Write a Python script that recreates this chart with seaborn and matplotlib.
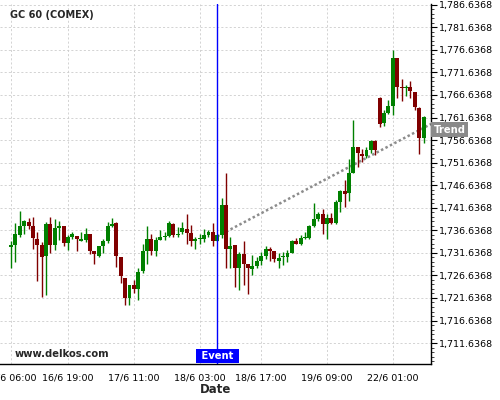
import numpy as np
import pandas as pd
import matplotlib
matplotlib.use("Agg")
import matplotlib.pyplot as plt
from matplotlib.ticker import FixedLocator, FuncFormatter
import seaborn as sns

# hourly candles, gaps (breaks / weekend) removed
opens = [1732.9, 1733.4, 1735.6, 1737.6, 1738.4, 1737.6, 1734.7, 1733.4, 1731.0, 1738.0,
         1733.4, 1737.1, 1737.6, 1733.9, 1735.2, 1735.4, 1734.3, 1734.5, 1735.8, 1732.1,
         1730.9, 1733.1, 1734.2, 1737.7, 1738.2, 1730.8, 1726.1, 1721.7, 1724.5, 1723.6,
         1727.7, 1732.0, 1734.8, 1732.0, 1734.5, 1735.1, 1735.4, 1738.0, 1735.7, 1736.2,
         1736.9, 1736.1, 1734.3, 1734.6, 1734.8, 1735.6, 1736.3, 1734.3, 1735.7, 1742.2,
         1732.4, 1733.4, 1728.2, 1731.4, 1729.2, 1728.0, 1728.7, 1729.8, 1730.9, 1732.5,
         1732.1, 1729.8, 1730.8, 1730.8, 1731.7, 1734.3, 1733.7, 1734.9, 1735.0, 1737.6,
         1739.1, 1740.2, 1738.0, 1739.4, 1738.3, 1742.8, 1745.3, 1744.8, 1749.4, 1755.2,
         1753.5, 1753.2, 1754.4, 1756.4, 1766.0, 1760.5, 1762.7, 1764.2, 1774.9, 1768.3,
         1768.2, 1768.3, 1767.4, 1763.8, 1757.0]
highs = [1734.2, 1738.2, 1740.9, 1738.9, 1739.3, 1739.5, 1736.3, 1734.1, 1738.4, 1739.5,
         1739.1, 1738.7, 1737.6, 1735.6, 1736.3, 1735.4, 1736.2, 1737.2, 1735.8, 1732.1,
         1733.2, 1734.8, 1738.4, 1739.3, 1738.5, 1730.8, 1726.1, 1724.5, 1725.6, 1728.2,
         1733.7, 1737.6, 1735.9, 1735.2, 1736.8, 1736.3, 1738.8, 1738.2, 1737.4, 1738.5,
         1740.2, 1737.8, 1735.2, 1735.9, 1736.9, 1736.7, 1738.2, 1735.7, 1743.9, 1749.3,
         1735.2, 1733.4, 1731.9, 1734.3, 1729.2, 1731.2, 1730.8, 1731.9, 1733.2, 1733.0,
         1732.1, 1731.5, 1731.9, 1732.3, 1734.5, 1735.0, 1735.6, 1736.3, 1737.8, 1742.6,
         1740.8, 1741.3, 1740.2, 1740.4, 1743.3, 1745.6, 1747.8, 1752.4, 1761.1, 1755.2,
         1754.6, 1755.2, 1756.6, 1756.6, 1766.2, 1763.3, 1765.5, 1776.6, 1774.9, 1770.2,
         1768.8, 1769.7, 1767.4, 1763.9, 1762.0]
lows = [1728.2, 1729.7, 1735.2, 1735.9, 1736.9, 1732.6, 1725.4, 1721.8, 1722.4, 1731.5,
        1732.3, 1734.5, 1733.1, 1732.3, 1734.6, 1732.1, 1734.2, 1734.1, 1731.4, 1729.1,
        1730.8, 1731.7, 1733.9, 1737.4, 1728.6, 1725.0, 1720.1, 1720.1, 1722.7, 1721.2,
        1727.2, 1729.2, 1731.2, 1730.9, 1734.5, 1734.5, 1735.2, 1735.2, 1735.1, 1735.8,
        1733.7, 1733.2, 1732.6, 1733.7, 1734.1, 1735.2, 1733.2, 1734.3, 1735.0, 1728.3,
        1728.2, 1724.0, 1723.4, 1724.5, 1722.6, 1726.7, 1728.2, 1728.9, 1730.3, 1729.8,
        1729.7, 1728.2, 1729.0, 1729.5, 1731.5, 1733.5, 1733.4, 1734.7, 1734.8, 1737.4,
        1738.7, 1735.8, 1734.8, 1738.0, 1738.0, 1740.8, 1741.7, 1743.2, 1749.3, 1750.6,
        1751.8, 1752.6, 1753.8, 1753.3, 1759.5, 1759.7, 1762.4, 1762.2, 1766.0, 1765.4,
        1766.4, 1765.9, 1763.3, 1753.5, 1755.9]
closes = [1733.4, 1735.8, 1737.6, 1738.7, 1737.6, 1735.0, 1733.4, 1730.8, 1738.0, 1733.4,
          1737.1, 1737.6, 1733.9, 1735.1, 1735.8, 1734.6, 1734.7, 1735.8, 1732.1, 1731.3,
          1733.1, 1734.2, 1737.6, 1738.0, 1731.0, 1726.4, 1721.7, 1724.5, 1723.6, 1727.5,
          1732.0, 1734.8, 1732.1, 1734.5, 1735.1, 1735.4, 1738.3, 1735.7, 1735.9, 1737.1,
          1736.1, 1734.3, 1734.7, 1735.0, 1735.6, 1736.3, 1734.3, 1735.7, 1742.2, 1732.4,
          1733.1, 1728.2, 1731.4, 1729.2, 1728.2, 1728.8, 1729.8, 1730.9, 1732.5, 1732.1,
          1730.3, 1730.4, 1731.0, 1731.7, 1734.3, 1733.6, 1735.0, 1735.2, 1737.6, 1739.1,
          1740.2, 1738.0, 1739.4, 1738.2, 1742.8, 1745.3, 1744.6, 1749.4, 1755.2, 1753.7,
          1753.2, 1754.4, 1756.4, 1754.4, 1760.3, 1762.7, 1764.2, 1774.9, 1768.3, 1768.2,
          1768.4, 1767.5, 1764.0, 1757.0, 1761.7]

tick_idx = [0, 13, 28, 43, 57, 72, 87]
tick_labels = ["16/6 06:00", "16/6 19:00", "17/6 11:00", "18/6 03:00",
               "18/6 17:00", "19/6 09:00", "22/6 01:00"]
minor_idx = [6.5, 20.5, 35.5, 50, 64.5, 79.5, 90.5, 93.5]

event_idx = 47
trend_x = [47, 95.7]
trend_y = [1735.3, 1760.2]

price_ticks = np.arange(1711.6368, 1786.7, 5)

sns.set_style("white")
plt.rcParams["font.family"] = ["DejaVu Sans"]

df = pd.DataFrame({"open": opens, "high": highs, "low": lows, "close": closes})
df["idx"] = np.arange(len(df))
colors = np.where(df["close"] >= df["open"], "#008000", "#800000")

fig = plt.figure(figsize=(5, 4), dpi=100)
ax = fig.add_axes([0.0, 0.09, 0.862, 0.90])

# trend line (under the candles)
sns.lineplot(x=trend_x, y=trend_y, ax=ax, color="#8c8c8c", lw=1.8,
             linestyle=(0, (1, 1)), zorder=1.8)

# candles
ax.vlines(df["idx"], df["low"], df["high"], colors=colors, lw=1, zorder=2)
body_lo = df[["open", "close"]].min(axis=1)
body_h = (df["close"] - df["open"]).abs().clip(lower=0.2)
ax.bar(df["idx"], body_h, bottom=body_lo, width=0.9, color=colors,
       linewidth=0, zorder=2.5)

ax.axvline(event_idx, color="blue", lw=1, zorder=3)

ax.set_xlim(-2.5, 95.7)
ax.set_ylim(1707.0, 1786.8)

ax.yaxis.tick_right()
ax.set_yticks(price_ticks)
ax.yaxis.set_major_formatter(FuncFormatter(lambda v, p: f"{v:,.4f}"))
ax.yaxis.set_minor_locator(FixedLocator(np.arange(1707.6368, 1786.7, 1)))
ax.set_xticks(tick_idx)
ax.set_xticklabels(tick_labels)
ax.xaxis.set_minor_locator(FixedLocator(minor_idx))

ax.tick_params(axis="both", which="major", labelsize=6.8, length=4, width=0.8,
               direction="out", colors="black", pad=1.5)
ax.tick_params(axis="both", which="minor", length=2.5, width=0.6, direction="out")
ax.tick_params(axis="x", which="major", pad=2.5)

ax.grid(True, which="major", ls=(0, (2.5, 2.5)), color="#cccccc", lw=0.6)
ax.set_axisbelow(True)

for s in ["left", "top"]:
    ax.spines[s].set_visible(False)
for s in ["right", "bottom"]:
    ax.spines[s].set_color("black")
    ax.spines[s].set_linewidth(1)

ax.set_xlabel("Date", fontsize=8.5, weight="bold", labelpad=1)
ax.set_ylabel("")

ax.text(0.023, 0.969, "GC 60 (COMEX)", transform=ax.transAxes, fontsize=7,
        weight="bold", ha="left", va="center")
ax.text(0.035, 0.029, "www.delkos.com", transform=ax.transAxes, fontsize=7.2,
        weight="bold", ha="left", va="center")

ax.annotate(" Event ", xy=(event_idx, 0), xycoords=("data", "axes fraction"),
            xytext=(0, 2), textcoords="offset points", ha="center", va="bottom",
            fontsize=7.2, weight="bold", color="white", zorder=5,
            bbox=dict(boxstyle="square,pad=0.2", fc="blue", ec="none"))
ax.annotate("Trend", xy=(1, trend_y[-1]), xycoords=("axes fraction", "data"),
            xytext=(2, -4), textcoords="offset points", ha="left", va="center",
            fontsize=7.2, weight="bold", color="white", zorder=5,
            annotation_clip=False,
            bbox=dict(boxstyle="square,pad=0.25", fc="#8a8a8a", ec="none"))

fig.savefig("out.png", dpi=100)
